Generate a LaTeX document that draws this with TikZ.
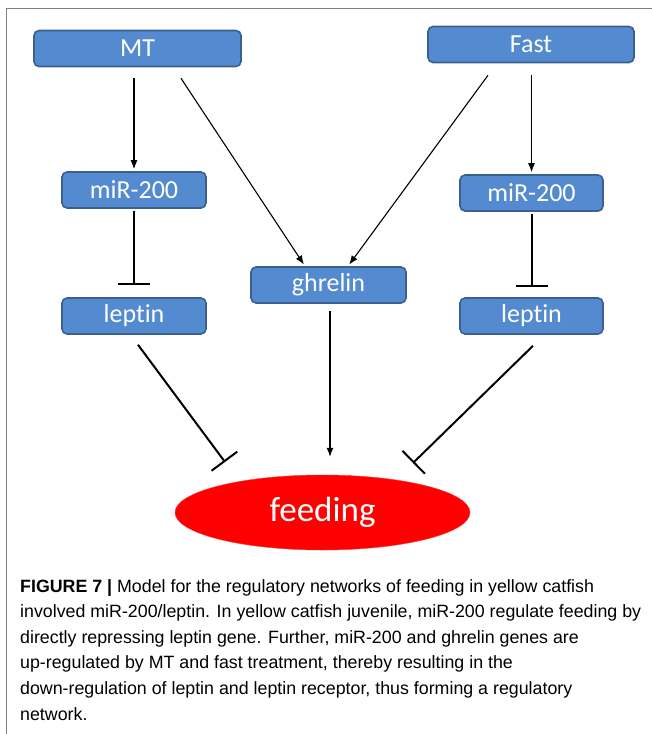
\documentclass[tikz,border=0pt]{standalone}
\usepackage{fontspec}
\setmainfont{Liberation Sans}
\newfontfamily\boxfont[Ligatures=NoCommon]{Carlito}
\newfontfamily\capfont{Liberation Sans}
\usepackage{tikz}
\usetikzlibrary{arrows.meta, shapes.geometric}
\definecolor{boxblue}{RGB}{84,138,208}
\definecolor{boxedge}{RGB}{58,96,145}
\tikzset{gene/.style = {draw=boxedge, line width=1.6, fill=boxblue, rounded corners=5, text=white,
    inner sep=0, minimum height=36, font=\boxfont\fontsize{26}{26}\selectfont}}
\tikzset{act/.style = {line width=1.1, -{Latex[length=9, width=7]}}}
\tikzset{inhib/.style = {line width=2, -{Bar[width=32, line width=2]}}}

\begin{document}
\begin{tikzpicture}[x=1pt, y=-1pt]
    \useasboundingbox (0, 0) rectangle (652, 734);
    \draw [gray, line width=1] (6.5, 734) -- (6.5, 8) -- (652, 8);

    \node [gene, minimum width=207] (mt) at (137.5, 48.5) {MT};
    \node [gene, minimum width=206] (fast) at (531, 44.5) {Fast};
    \node [gene, minimum width=144] (mirL) at (134, 190) {miR-200};
    \node [gene, minimum width=143] (mirR) at (531.5, 193) {miR-200};
    \node [gene, minimum width=155] (ghr) at (328.5, 285) {ghrelin};
    \node [gene, minimum width=144] (lepL) at (134, 316) {leptin};
    \node [gene, minimum width=143] (lepR) at (531.5, 316) {leptin};
    \node [ellipse, fill=red, draw=red!80!white, minimum width=295, minimum height=75, inner sep=0,
      text=white, font=\boxfont\fontsize{35}{35}\selectfont] (feed) at (322.5, 512.5) {feeding};

    \draw [act, shorten <=11, shorten >=2] (mirL.north |- mt.south) -- (mirL.north);
    \draw [act, shorten >=2] ([xshift=43.5pt, yshift=-11pt]mt.south) -- ([xshift=-23.5pt]ghr.north);
    \draw [act, shorten >=2] ([xshift=-43pt, yshift=-12pt]fast.south) -- ([xshift=19.5pt]ghr.north);
    \draw [act, shorten <=12, shorten >=2] (mirR.north |- fast.south) -- (mirR.north);

    \draw [inhib, shorten <=2, shorten >=12] (mirL.south) -- (lepL.north);
    \draw [inhib, shorten <=2, shorten >=10] (mirR.south) -- (lepR.north);
    \draw [inhib] ([xshift=4pt, yshift=-10pt]lepL.south) -- ([xshift=-97.5pt, yshift=50.5pt]feed.center);
    \draw [inhib] ([xshift=1.5pt, yshift=-11pt]lepR.south) -- ([xshift=90.5pt, yshift=49.5pt]feed.center);
    \draw [act, shorten <=7, shorten >=18] ([xshift=1.5pt]ghr.south) -- ([xshift=7.5pt]feed.north);

    \node [anchor=north west, inner sep=0, align=left, font=\capfont\fontsize{17.8}{25.6}\selectfont] (caption) at (20, 579)
      {\textbf{FIGURE 7 |} Model for the regulatory networks of feeding in yellow catfish\\
       involved miR-200/leptin. In yellow catfish juvenile, miR-200 regulate feeding by\\
       directly repressing leptin gene. Further, miR-200 and ghrelin genes are\\
       up-regulated by MT and fast treatment, thereby resulting in the\\
       down-regulation of leptin and leptin receptor, thus forming a regulatory\\
       network.};
  \end{tikzpicture}
\end{document}
